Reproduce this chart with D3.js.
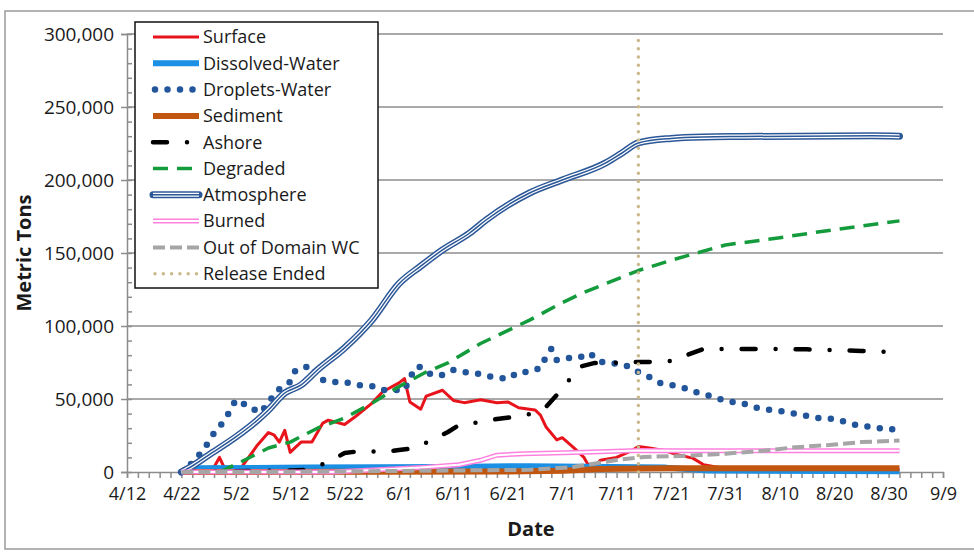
<!DOCTYPE html>
<html>
<head>
<meta charset="utf-8">
<script src="https://cdnjs.cloudflare.com/ajax/libs/d3/7.8.5/d3.min.js"></script>
<style>
  body { margin: 0; background: #fff; }
  svg { display: block; }
  text { font-family: "Open Sans", "Noto Sans", sans-serif; fill: #1a1a1a; }
</style>
</head>
<body>
<svg width="974" height="553"></svg>
<script>
// ---- data (dates are M/D in 2010, values in metric tons) ----
var xTickLabels = ["4/12","4/22","5/2","5/12","5/22","6/1","6/11","6/21","7/1","7/11","7/21","7/31","8/10","8/20","8/30","9/9"];
var yTicks = [0, 50000, 100000, 150000, 200000, 250000, 300000];
var releaseEnded = "7/15";

var surface = [["4/22",0],["4/25",1000],["4/27",3000],["4/28",3500],["4/29",10000],["4/30",2000],["5/2",1500],["5/3",3000],
  ["5/6",18500],["5/8",27000],["5/9",25500],["5/10",20500],["5/11",28500],["5/12",13500],["5/13",17000],["5/14",20500],
  ["5/16",20500],["5/18",33500],["5/19",35500],["5/22",32500],["5/24",38000],["5/27",47000],["5/29",55000],["6/1",61000],
  ["6/2",64000],["6/3",48000],["6/5",43000],["6/6",52000],["6/9",56000],["6/11",49000],["6/13",47500],["6/16",49500],
  ["6/19",47500],["6/21",48000],["6/23",44000],["6/26",42500],["6/27",39000],["6/28",31000],["6/30",22000],["7/1",23500],
  ["7/3",17000],["7/5",10000],["7/6",3500],["7/7",3500],["7/8",8000],["7/11",10000],["7/14",15000],["7/15",17500],
  ["7/17",16500],["7/20",14500],["7/22",12000],["7/25",9500],["7/27",5000],["7/30",3000],["8/4",2500],["8/10",2000],["9/1",1500]];

var dissolvedWater = [["4/22",0],["4/24",2500],["5/15",3000],["6/10",3500],["6/25",4000],["7/10",3500],["7/20",3000],
  ["7/28",1000],["9/1",500]];

var dropletsWater = [["4/22",0],["4/24",6200],["4/26",15000],["4/27",20500],["4/28",26700],["4/30",35600],["5/1",42500],
  ["5/2",49300],["5/3",47300],["5/5",44500],["5/6",40400],["5/8",45900],["5/9",54100],["5/12",61700],["5/13",69900],
  ["5/14",71200],["5/16",72600],["5/17",64400],["5/19",61700],["5/22",61700],["5/24",59600],["5/27",58900],["5/29",56200],
  ["5/31",56200],["6/2",56200],["6/4",71900],["6/5",71900],["6/7",66400],["6/9",66400],["6/11",69900],["6/14",67800],
  ["6/16",67100],["6/18",65100],["6/21",63700],["6/23",68500],["6/25",68500],["6/27",71200],["6/28",78800],["6/29",84300],
  ["6/30",76700],["7/2",78100],["7/4",78100],["7/6",81500],["7/8",75400],["7/10",74700],["7/13",72600],["7/15",68500],
  ["7/17",65100],["7/19",61000],["7/22",58900],["7/24",56900],["7/26",54100],["7/29",51400],["7/31",48600],["8/3",47300],
  ["8/5",44500],["8/7",43200],["8/10",41800],["8/12",40400],["8/15",38400],["8/17",37000],["8/20",36300],["8/22",34300],
  ["8/24",32200],["8/27",30800],["8/29",29500],["9/1",29000]];

var sediment = [["4/22",0],["6/20",300],["7/1",800],["7/8",2000],["7/20",2500],["9/1",2500]];

var ashore = [["4/22",0],["5/2",500],["5/12",1000],["5/15",1500],["5/19",6800],["5/22",13000],["5/25",14400],["5/29",13700],
  ["6/1",15000],["6/4",16400],["6/7",21900],["6/10",27400],["6/12",32000],["6/16",34300],["6/19",36300],["6/22",37700],
  ["6/25",39700],["6/28",44500],["6/30",52700],["7/2",61700],["7/4",71900],["7/7",74700],["7/10",74700],["7/14",75400],
  ["7/17",75400],["7/21",76100],["7/24",80200],["7/27",84300],["7/31",84300],["8/5",84300],["8/15",84000],["8/25",82900],
  ["9/1",82000]];

var degraded = [["4/29",0],["5/3",7000],["5/8",16400],["5/12",20500],["5/17",30000],["5/22",37000],["5/27",47000],
  ["6/1",58500],["6/6",68500],["6/10",74700],["6/16",88000],["6/25",104000],["7/1",116000],["7/5",123000],["7/15",138000],
  ["7/21",145000],["7/31",155500],["8/10",160500],["8/20",166000],["9/1",172000]];

var atmosphere = [["4/22",0],["4/24",4100],["4/27",11600],["5/2",24000],["5/6",35600],["5/8",42500],["5/11",54100],
  ["5/14",59600],["5/17",69900],["5/22",85000],["5/27",104000],["6/1",129000],["6/5",141000],["6/9",152100],["6/14",163700],
  ["6/17",172600],["6/25",191100],["7/1",200000],["7/9",211700],["7/12",218500],["7/15",225400],["7/21",228500],
  ["7/27",229500],["8/3",229800],["8/27",230300],["9/1",230000]];

var burned = [["4/22",0],["5/20",0],["5/28",1500],["6/5",3000],["6/12",5000],["6/16",8000],["6/19",11500],["6/24",12500],
  ["7/5",13500],["7/15",14800],["7/22",14500],["9/1",14500]];

var outOfDomainWC = [["4/22",0],["5/10",0],["5/25",500],["6/10",1000],["6/25",1500],["7/3",3400],["7/11",8200],["7/16",10300],
  ["7/23",11000],["7/31",12500],["8/7",14600],["8/13",17000],["8/19",18500],["8/25",20500],["9/1",21500]];

// ---- styles ----
var styles = {
  "Surface": [{c: "#e8141b", w: 3}],
  "Dissolved-Water": [{c: "#1a8fe3", w: 6}],
  "Droplets-Water": [{c: "#22559a", w: 6.5, dash: "0 12.5", cap: "round"}],
  "Sediment": [{c: "#c0560f", w: 6}],
  "Ashore": [{c: "#000", w: 4.5, dash: "14 20 0 20", cap: "round"}],
  "Degraded": [{c: "#149b3c", w: 3.5, dash: "15 9"}],
  "Atmosphere": [{c: "#2b5797", w: 7, cap: "round"}, {c: "#fff", w: 4}, {c: "#2b5797", w: 1.5}],
  "Burned": [{c: "#ff80df", w: 5}, {c: "#fff", w: 2}],
  "Out of Domain WC": [{c: "#a6a6a6", w: 4, dash: "12 5"}],
  "Release Ended": [{c: "#c9b98c", w: 3.5, dash: "0 8.3", cap: "round"}]
};

var series = [
  {name: "Surface", data: surface},
  {name: "Dissolved-Water", data: dissolvedWater},
  {name: "Droplets-Water", data: dropletsWater},
  {name: "Sediment", data: sediment},
  {name: "Ashore", data: ashore},
  {name: "Degraded", data: degraded},
  {name: "Atmosphere", data: atmosphere, smooth: true},
  {name: "Burned", data: burned},
  {name: "Out of Domain WC", data: outOfDomainWC}
];

var parse = function (s) { return d3.timeParse("%m/%d/%Y")(s + "/2010"); };
var fmt = d3.timeFormat("%-m/%-d");

var svg = d3.select("svg");
var plotLeft = 127, plotRight = 943, plotTop = 34, plotBottom = 472;

// outer frame
svg.append("rect").attr("x", 5).attr("y", 11).attr("width", 990).attr("height", 538)
  .attr("fill", "none").attr("stroke", "#9a9a9a").attr("stroke-width", 1.5);

var startDate = parse(xTickLabels[0]), endDate = parse(xTickLabels[xTickLabels.length - 1]);
var x = d3.scaleTime().domain([startDate, endDate]).range([plotLeft, plotRight]);
var y = d3.scaleLinear().domain([0, 300000]).range([plotBottom, plotTop]);

// gridlines
svg.append("g").selectAll("line").data(yTicks.slice(1)).enter().append("line")
  .attr("x1", plotLeft).attr("x2", plotRight)
  .attr("y1", function (d) { return y(d); }).attr("y2", function (d) { return y(d); })
  .attr("stroke", "#8c8c8c").attr("stroke-width", 1.5);

// y axis
var yAxisG = svg.append("g").attr("transform", "translate(" + plotLeft + ",0)")
  .call(d3.axisLeft(y).tickValues(yTicks).tickFormat(d3.format(",")).tickSize(6).tickPadding(7));
svg.append("g").attr("transform", "translate(" + plotLeft + ",0)")
  .call(d3.axisRight(y).tickValues(d3.range(0, 300001, 10000)).tickFormat("").tickSize(5))
  .select(".domain").remove();

// x axis
var xTicks = d3.timeDay.range(startDate, d3.timeDay.offset(endDate, 1), 2);
var labelSet = xTickLabels.map(function (s) { return +parse(s); });
var xAxisG = svg.append("g").attr("transform", "translate(0," + plotBottom + ")")
  .call(d3.axisBottom(x).tickValues(xTicks).tickSize(6).tickPadding(9)
    .tickFormat(function (d) { return labelSet.indexOf(+d) >= 0 ? fmt(d) : ""; }));

svg.selectAll(".domain, .tick line").attr("stroke", "#8c8c8c").attr("stroke-width", 1.5);
svg.selectAll(".tick text").style("font-family", "'Open Sans', sans-serif").attr("fill", "#1a1a1a");
yAxisG.selectAll(".tick text").attr("font-size", 19);
xAxisG.selectAll(".tick text").attr("font-size", 18);

// axis titles
svg.append("text").attr("transform", "translate(31,253) rotate(-90)")
  .attr("text-anchor", "middle").attr("font-size", 20).attr("font-weight", "bold").text("Metric Tons");
svg.append("text").attr("x", 531).attr("y", 536)
  .attr("text-anchor", "middle").attr("font-size", 20).attr("font-weight", "bold").text("Date");

// series lines
var line = d3.line()
  .x(function (d) { return x(parse(d[0])); })
  .y(function (d) { return y(d[1]); });

var drawStyled = function (g, pathD, name) {
  styles[name].forEach(function (s) {
    g.append("path").attr("d", pathD).attr("fill", "none")
      .attr("stroke", s.c).attr("stroke-width", s.w)
      .attr("stroke-dasharray", s.dash || null)
      .attr("stroke-linecap", s.cap || "butt")
      .attr("stroke-linejoin", "round");
  });
};

var plot = svg.append("g");
series.forEach(function (s) {
  line.curve(s.smooth ? d3.curveMonotoneX : d3.curveLinear);
  drawStyled(plot.append("g"), line(s.data), s.name);
});

// release ended marker
var rx = x(parse(releaseEnded));
drawStyled(plot.append("g"), "M" + rx + "," + plotBottom + "V" + plotTop, "Release Ended");

// legend
var names = series.map(function (s) { return s.name; }).concat(["Release Ended"]);
var legend = svg.append("g");
legend.append("rect").attr("x", 135).attr("y", 22).attr("width", 243).attr("height", 266)
  .attr("fill", "#fff").attr("stroke", "#111").attr("stroke-width", 1.5);
names.forEach(function (n, i) {
  var ly = 37 + i * 26.3;
  var x1 = n === "Droplets-Water" || n === "Release Ended" ? 155 : 153;
  drawStyled(legend.append("g"), "M" + x1 + "," + ly + "H199", n);
  legend.append("text").attr("x", 203).attr("y", ly).attr("dy", "0.35em")
    .attr("font-size", 18).text(n);
});
</script>
</body>
</html>
